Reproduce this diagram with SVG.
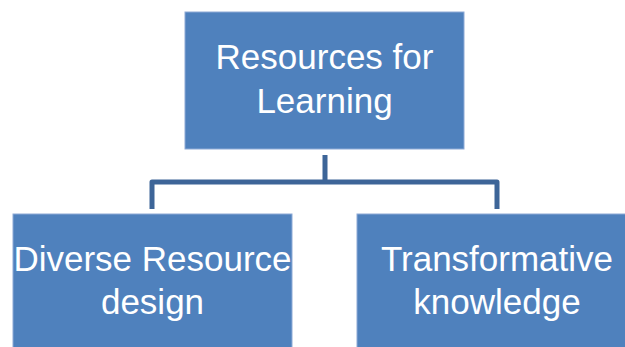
<svg xmlns="http://www.w3.org/2000/svg" width="625" height="347" viewBox="0 0 625 347">
<style>
.box{fill:#4f81bd;stroke:#8eaad6;stroke-width:1}
.lbl{fill:#ffffff;font-family:"Liberation Sans",Arial,sans-serif;font-size:35px;text-anchor:middle}
.conn{fill:none;stroke:#3d6598;stroke-width:5;stroke-linejoin:round}
</style>
<rect width="625" height="347" fill="#ffffff"/>
<g id="connectors">
<path class="conn" d="M325,155 V182 M152,209 V182 H497 V209"/>
</g>
<g id="node-resources">
<rect class="box" x="185" y="12" width="279" height="137"/>
<text class="lbl" x="324.5" y="69">Resources for</text>
<text class="lbl" x="324.5" y="113">Learning</text>
</g>
<g id="node-diverse">
<rect class="box" x="13" y="214" width="279" height="140"/>
<text class="lbl" x="152.5" y="271">Diverse Resource</text>
<text class="lbl" x="152.5" y="314">design</text>
</g>
<g id="node-transformative">
<rect class="box" x="357" y="214" width="280" height="140"/>
<text class="lbl" x="497" y="271">Transformative</text>
<text class="lbl" x="497" y="314">knowledge</text>
</g>
</svg>
